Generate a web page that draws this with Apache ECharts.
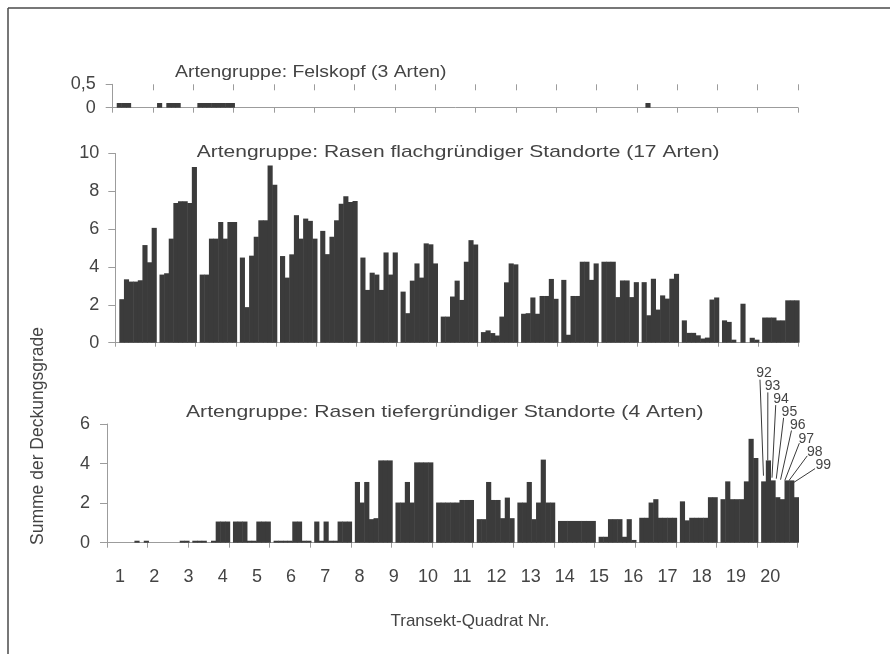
<!DOCTYPE html>
<html>
<head>
<meta charset="utf-8">
<script src="https://cdn.jsdelivr.net/npm/echarts@6/dist/echarts.min.js"></script>
<style>
  html, body { margin: 0; padding: 0; background: #fff; }
  #chart { width: 890px; height: 654px; }
</style>
</head>
<body>
<div id="chart"></div>
<script>
// Summe der Deckungsgrade je Quadrat, 17 Blöcke zu je 8 Quadraten

// Artengruppe: Felskopf (3 Arten)
const felskopf = [
  [0.1, 0.1, 0.1, 0, 0, 0, 0, 0],
  [0.1, 0, 0.1, 0.1, 0.1, 0, 0, 0],
  [0.1, 0.1, 0.1, 0.1, 0.1, 0.1, 0.1, 0.1],
  [0, 0, 0, 0, 0, 0, 0, 0],
  [0, 0, 0, 0, 0, 0, 0, 0],
  [0, 0, 0, 0, 0, 0, 0, 0],
  [0, 0, 0, 0, 0, 0, 0, 0],
  [0, 0, 0, 0, 0, 0, 0, 0],
  [0, 0, 0, 0, 0, 0, 0, 0],
  [0, 0, 0, 0, 0, 0, 0, 0],
  [0, 0, 0, 0, 0, 0, 0, 0],
  [0, 0, 0, 0, 0, 0, 0, 0],
  [0, 0, 0, 0, 0, 0, 0, 0],
  [0, 0.1, 0, 0, 0, 0, 0, 0],
  [0, 0, 0, 0, 0, 0, 0, 0],
  [0, 0, 0, 0, 0, 0, 0, 0],
  [0, 0, 0, 0, 0, 0, 0, 0]
];

// Artengruppe: Rasen flachgründiger Standorte (17 Arten)
const rasenFlach = [
  [2.3, 3.35, 3.23, 3.23, 3.3, 5.16, 4.25, 6.07],
  [3.6, 3.67, 5.5, 7.38, 7.47, 7.47, 7.38, 9.28],
  [3.6, 3.6, 5.5, 5.5, 6.38, 5.5, 6.38, 6.38],
  [4.5, 1.88, 4.6, 5.6, 6.47, 6.47, 9.37, 8.35],
  [4.58, 3.44, 4.67, 6.74, 5.5, 6.56, 6.44, 5.5],
  [5.91, 4.68, 5.6, 6.47, 7.35, 7.74, 7.44, 7.49],
  [4.5, 2.79, 3.7, 3.6, 2.79, 4.77, 3.6, 4.77],
  [2.7, 1.56, 3.28, 4.19, 3.44, 5.25, 5.2, 4.19],
  [1.38, 1.38, 2.44, 3.28, 2.26, 4.28, 5.42, 5.19],
  [0.56, 0.65, 0.51, 0.38, 1.38, 3.19, 4.19, 4.14],
  [1.53, 1.56, 2.39, 1.53, 2.47, 2.47, 3.37, 2.32],
  [3.32, 0.42, 2.47, 2.47, 4.28, 4.28, 3.32, 4.19],
  [4.28, 4.28, 4.28, 2.41, 3.29, 3.29, 2.41, 3.2],
  [3.2, 1.45, 3.38, 1.75, 2.5, 2.33, 3.38, 3.64],
  [1.18, 0.52, 0.52, 0.39, 0.22, 0.27, 2.28, 2.39],
  [1.18, 1.1, 0.16, 0, 2.06, 0, 0.26, 0.16],
  [1.33, 1.33, 1.33, 1.18, 1.18, 2.24, 2.24, 2.24]
];

// Artengruppe: Rasen tiefergründiger Standorte (4 Arten)
const rasenTief = [
  [0, 0, 0, 0, 0, 0.1, 0, 0.1],
  [0, 0, 0, 0, 0, 0, 0.1, 0.1],
  [0.1, 0.1, 0.1, 0, 0.1, 1.07, 1.07, 1.07],
  [1.07, 1.07, 1.07, 0.1, 0.1, 1.07, 1.07, 1.07],
  [0.1, 0.1, 0.1, 0.1, 1.07, 1.07, 0.1, 0.1],
  [1.07, 0.1, 1.07, 0.1, 0.1, 1.07, 1.07, 1.07],
  [3.07, 2.03, 3.07, 1.19, 1.24, 4.16, 4.16, 4.16],
  [2.03, 2.03, 3.07, 2.03, 4.06, 4.06, 4.06, 4.06],
  [2.03, 2.03, 2.03, 2.03, 2.03, 2.16, 2.16, 2.16],
  [1.19, 1.19, 3.07, 2.16, 2.16, 1.24, 2.28, 1.24],
  [2.03, 2.03, 3.07, 1.19, 2.03, 4.2, 2.03, 2.03],
  [1.1, 1.1, 1.1, 1.1, 1.1, 1.1, 1.1, 1.1],
  [0.3, 0.3, 1.19, 1.19, 1.19, 0.3, 1.19, 0.14],
  [1.26, 1.26, 2.03, 2.2, 1.26, 1.26, 1.26, 1.26],
  [2.09, 1.13, 1.26, 1.26, 1.26, 1.26, 2.3, 2.3],
  [2.2, 3.1, 2.2, 2.2, 2.2, 3.1, 5.25, 4.28],
  [3.1, 4.16, 3.15, 2.3, 2.2, 3.15, 3.15, 2.3]
];

// Nummern der Quadrate im letzten Block
const quadratNummern = ['92', '93', '94', '95', '96', '97', '98', '99'];

// Beschriftung der Rechtsachse
const transektLabels = ['1', '2', '3', '4', '5', '6', '7', '8', '9', '10',
  '11', '12', '13', '14', '15', '16', '17', '18', '19', '20'];

const BLOCKS = 17;
const PER_BLOCK = 8;
const BLOCK_START = 0.1;            // Lücke vor jedem Block (in Blockbreiten)
const SLOT = 0.92 / PER_BLOCK;      // Breite eines Quadrats
const BAR = '#3b3b3b';
const AXIS = '#9c9c9c';
const TEXT = '#444';
const FONT = 'Liberation Sans';

function toSeriesData(blocks) {
  const out = [];
  blocks.forEach((row, g) => row.forEach((v, s) => out.push([g, s, v])));
  return out;
}

function renderQuadrat(params, api) {
  const v = api.value(2);
  if (!v) return;
  const x0 = api.value(0) + BLOCK_START + api.value(1) * SLOT;
  const p0 = api.coord([x0, 0]);
  const p1 = api.coord([x0 + SLOT, v]);
  return {
    type: 'rect',
    shape: { x: p0[0], y: p1[1], width: p1[0] - p0[0] + 0.5, height: p0[1] - p1[1] },
    style: { fill: BAR }
  };
}

function renderCallout(params, api) {
  const i = params.dataIndex;
  const v = api.value(2);
  const c = api.coord([api.value(0) + BLOCK_START + (api.value(1) + 0.5) * SLOT, 0]);
  const top = api.coord([0, v])[1];
  const base = c[1];
  const tx = c[0] + 0.5 + 3.8 * i;
  const ty = base - 170 + 13.2 * i;
  return {
    type: 'group',
    children: [
      {
        type: 'line',
        shape: { x1: tx - 4 - 0.6 * i, y1: ty + 7 - 0.5 * i, x2: c[0] - 0.4 * i, y2: Math.min(top, base - 67 + i) },
        style: { stroke: '#3a3a3a', lineWidth: 1 }
      },
      {
        type: 'text',
        x: tx, y: ty,
        style: { text: quadratNummern[i], align: 'center', verticalAlign: 'middle',
                 fontSize: 14, fontFamily: FONT, fill: TEXT }
      }
    ]
  };
}

function blockAxis(gridIndex, tickLen, inside, showLine) {
  return {
    type: 'value', gridIndex, min: 0, max: BLOCKS, interval: 1,
    axisLine: { show: showLine, lineStyle: { color: AXIS, width: 1 } },
    axisTick: { show: true, inside, length: tickLen, lineStyle: { color: AXIS, width: 1 } },
    axisLabel: { show: false },
    splitLine: { show: false }
  };
}

function valueAxis(gridIndex, max, interval, margin, fmt) {
  return {
    type: 'value', gridIndex, min: 0, max, interval,
    axisLine: { show: true, lineStyle: { color: AXIS, width: 1 } },
    axisTick: { show: true, length: 7, lineStyle: { color: AXIS, width: 1 } },
    axisLabel: { margin, fontSize: 18, fontFamily: FONT, color: TEXT, formatter: fmt },
    splitLine: { show: false }
  };
}

const lastBlock = BLOCKS - 1;
const calloutData = quadratNummern.map((n, s) => [lastBlock, s, rasenTief[lastBlock][s]]);

function titleText(text, x, y, sx) {
  return {
    type: 'text', x, y, scaleX: sx,
    style: { text, fontSize: 17, fontFamily: FONT, fill: TEXT, align: 'left', verticalAlign: 'middle' }
  };
}

const chart = echarts.init(document.getElementById('chart'), null, { renderer: 'canvas' });
chart.setOption({
  animation: false,
  backgroundColor: '#fff',
  textStyle: { fontFamily: FONT },
  grid: [
    { left: 112.7, top: 84.3, width: 685.3, height: 23.4 },
    { left: 115.3, top: 153.5, width: 683, height: 189.2 },
    { left: 107, top: 424, width: 690.7, height: 118.7 },
    { left: 102.9, top: 560, width: 684.4, height: 1 }
  ],
  xAxis: [
    blockAxis(0, 5, false, true),
    blockAxis(0, 6, true, false),
    blockAxis(1, 4, false, true),
    blockAxis(2, 5, false, true),
    {
      type: 'category', gridIndex: 3, data: transektLabels, boundaryGap: true,
      axisLine: { show: false }, axisTick: { show: false },
      axisLabel: { margin: 7, fontSize: 18, fontFamily: FONT, color: TEXT, interval: 0 }
    }
  ],
  yAxis: [
    valueAxis(0, 0.5, 0.5, 17, v => String(v).replace('.', ',')),
    valueAxis(1, 10, 2, 16),
    valueAxis(2, 6, 2, 17),
    { type: 'value', gridIndex: 3, show: false }
  ],
  series: [
    { type: 'custom', xAxisIndex: 0, yAxisIndex: 0, renderItem: renderQuadrat,
      data: toSeriesData(felskopf), encode: { x: 0, y: 2 }, clip: false },
    { type: 'custom', xAxisIndex: 2, yAxisIndex: 1, renderItem: renderQuadrat,
      data: toSeriesData(rasenFlach), encode: { x: 0, y: 2 }, clip: false },
    { type: 'custom', xAxisIndex: 3, yAxisIndex: 2, renderItem: renderQuadrat,
      data: toSeriesData(rasenTief), encode: { x: 0, y: 2 }, clip: false },
    { type: 'custom', xAxisIndex: 3, yAxisIndex: 2, renderItem: renderCallout,
      data: calloutData, encode: { x: 0, y: 2 }, clip: false, z: 3 }
  ],
  graphic: {
    elements: [
      { type: 'line', shape: { x1: 8, y1: 8, x2: 890, y2: 8 }, style: { stroke: '#4a4a4a', lineWidth: 1.5 } },
      { type: 'line', shape: { x1: 8, y1: 8, x2: 8, y2: 654 }, style: { stroke: '#4a4a4a', lineWidth: 1.5 } },
      titleText('Artengruppe: Felskopf (3 Arten)', 175, 72, 1.14),
      titleText('Artengruppe: Rasen flachgründiger Standorte (17 Arten)', 196.7, 152, 1.235),
      titleText('Artengruppe: Rasen tiefergründiger Standorte (4 Arten)', 186, 412, 1.245),
      {
        type: 'text', x: 38, y: 436, rotation: Math.PI / 2,
        style: { text: 'Summe der Deckungsgrade', fontSize: 17.5, fontFamily: FONT, fill: TEXT,
                 align: 'center', verticalAlign: 'middle' }
      },
      {
        type: 'text', x: 470, y: 621,
        style: { text: 'Transekt-Quadrat Nr.', fontSize: 17, fontFamily: FONT, fill: TEXT,
                 align: 'center', verticalAlign: 'middle' }
      }
    ]
  }
});
</script>
</body>
</html>
